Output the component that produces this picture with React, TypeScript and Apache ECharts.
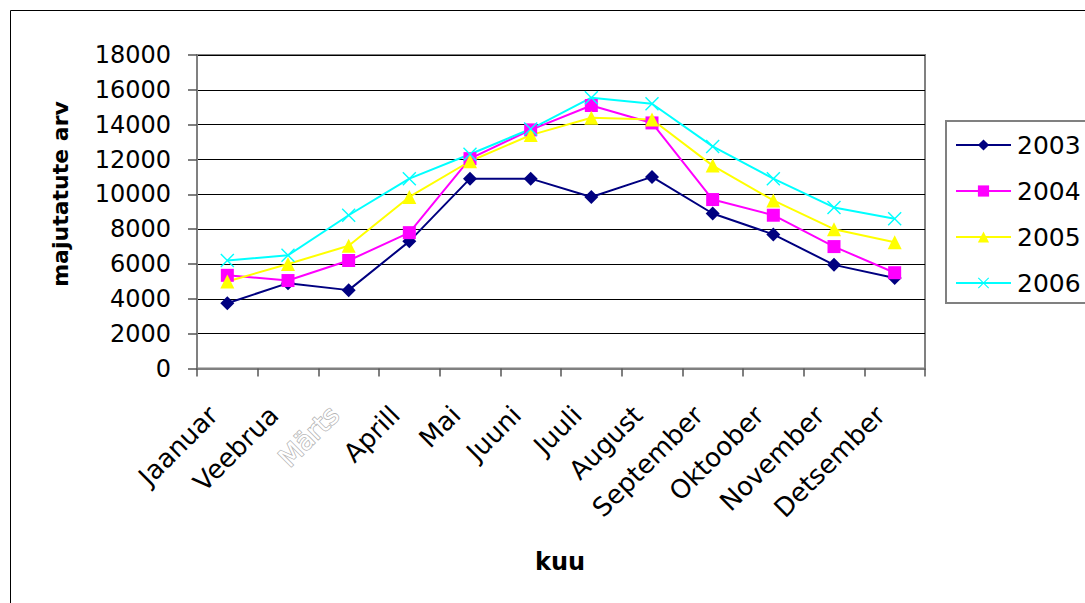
import React, { useEffect, useRef } from "react";
import * as echarts from "echarts";

const categories = [
  "Jaanuar",
  "Veebrua",
  "Märts",
  "Aprill",
  "Mai",
  "Juuni",
  "Juuli",
  "August",
  "September",
  "Oktoober",
  "November",
  "Detsember",
];

const seriesNames = ["2003", "2004", "2005", "2006"];

const values2003 = [3750, 4900, 4500, 7300, 10900, 10900, 9850, 11000, 8900, 7700, 5950, 5200];
const values2004 = [5350, 5050, 6200, 7800, 12050, 13700, 15100, 14100, 9700, 8800, 7000, 5500];
const values2005 = [5000, 6000, 7050, 9850, 11900, 13400, 14400, 14300, 11650, 9650, 8000, 7250];
const values2006 = [6200, 6500, 8800, 10900, 12300, 13750, 15550, 15200, 12750, 10900, 9250, 8600];

const yTitle = "majutatute arv";
const xTitle = "kuu";

const FONT = "DejaVu Sans";

const crossPath =
  "path://M1,0 L7,6 L13,0 L14,1 L8,7 L14,13 L13,14 L7,8 L1,14 L0,13 L6,7 L0,1 Z";

export default function App() {
  const ref = useRef<HTMLDivElement>(null);

  useEffect(() => {
    document.body.style.margin = "0";
    document.body.style.overflow = "hidden";
    const chart = echarts.init(ref.current as HTMLDivElement, null, { renderer: "svg" });

    const mk = (
      name: string,
      data: number[],
      color: string,
      symbol: string,
      size: number
    ) => ({
      name,
      type: "line",
      data,
      symbol,
      symbolSize: size,
      showSymbol: true,
      lineStyle: { color, width: 2 },
      itemStyle: { color, borderWidth: 0 },
      emphasis: { disabled: true },
    });

    const option: any = {
      animation: false,
      backgroundColor: "#fff",
      textStyle: { fontFamily: FONT },
      grid: {
        left: 197,
        right: 160,
        top: 55,
        bottom: 234.5,
        show: true,
        borderColor: "#808080",
        borderWidth: 2,
        backgroundColor: "transparent",
      },
      legend: {
        data: seriesNames,
        orient: "vertical",
        left: 955,
        top: 132,
        padding: 0,
        itemWidth: 55,
        itemHeight: 14,
        itemGap: 20,
        selectedMode: false,
        textStyle: {
          fontSize: 25,
          fontFamily: FONT,
          color: "#000",
          lineHeight: 26,
          padding: [0, 0, 0, 1],
        },
      },
      xAxis: {
        type: "category",
        data: categories,
        boundaryGap: true,
        axisLine: { lineStyle: { color: "#808080", width: 2 } },
        axisTick: {
          show: true,
          length: 8,
          interval: 0,
          lineStyle: { color: "#555", width: 1.5 },
        },
        axisLabel: {
          interval: 0,
          rotate: 45,
          margin: 28,
          padding: [0, 20, 0, 0],
          fontSize: 26,
          fontFamily: FONT,
          color: "#000",
          formatter: (v: string) => (v === "Märts" ? "{m|" + v + "}" : v),
          rich: {
            m: {
              fontSize: 26,
              fontFamily: FONT,
              color: "#fff",
              textBorderColor: "#b4b4b4",
              textBorderWidth: 1.6,
            },
          },
        },
        splitLine: { show: false },
      },
      yAxis: {
        type: "value",
        min: 0,
        max: 18000,
        interval: 2000,
        axisLine: { show: true, lineStyle: { color: "#808080", width: 2 } },
        axisTick: { show: true, length: 9, lineStyle: { color: "#555", width: 1.5 } },
        axisLabel: {
          fontSize: 24,
          fontFamily: FONT,
          color: "#000",
          margin: 26,
          padding: [6, 0, 0, 0],
          formatter: (v: number) => String(v),
        },
        splitLine: { show: true, lineStyle: { color: "#000", width: 1 } },
      },
      series: [
        mk("2003", values2003, "#000080", "diamond", 14),
        mk("2004", values2004, "#ff00ff", "rect", 13),
        mk("2005", values2005, "#ffff00", "triangle", 14),
        mk("2006", values2006, "#00ffff", crossPath, 14),
      ],
      graphic: [
        {
          type: "rect",
          shape: { x: 10.5, y: 10.5, width: 1100, height: 700 },
          style: { fill: "none", stroke: "#000", lineWidth: 1 },
          silent: true,
          z: 0,
        },
        {
          type: "rect",
          shape: { x: 946, y: 121, width: 200, height: 182 },
          style: { fill: "none", stroke: "#808080", lineWidth: 2 },
          silent: true,
        },
        {
          type: "text",
          x: 560,
          y: 562,
          style: {
            text: xTitle,
            fontFamily: FONT,
            fontWeight: "bold",
            fontSize: 24,
            fill: "#000",
            align: "center",
            verticalAlign: "middle",
          },
        },
        {
          type: "text",
          x: 60,
          y: 194,
          rotation: Math.PI / 2,
          style: {
            text: yTitle,
            fontFamily: FONT,
            fontWeight: "bold",
            fontSize: 22,
            fill: "#000",
            align: "center",
            verticalAlign: "middle",
          },
        },
      ],
    };

    chart.setOption(option);
    return () => chart.dispose();
  }, []);

  return <div ref={ref} style={{ width: 1085, height: 603, background: "#fff" }} />;
}
